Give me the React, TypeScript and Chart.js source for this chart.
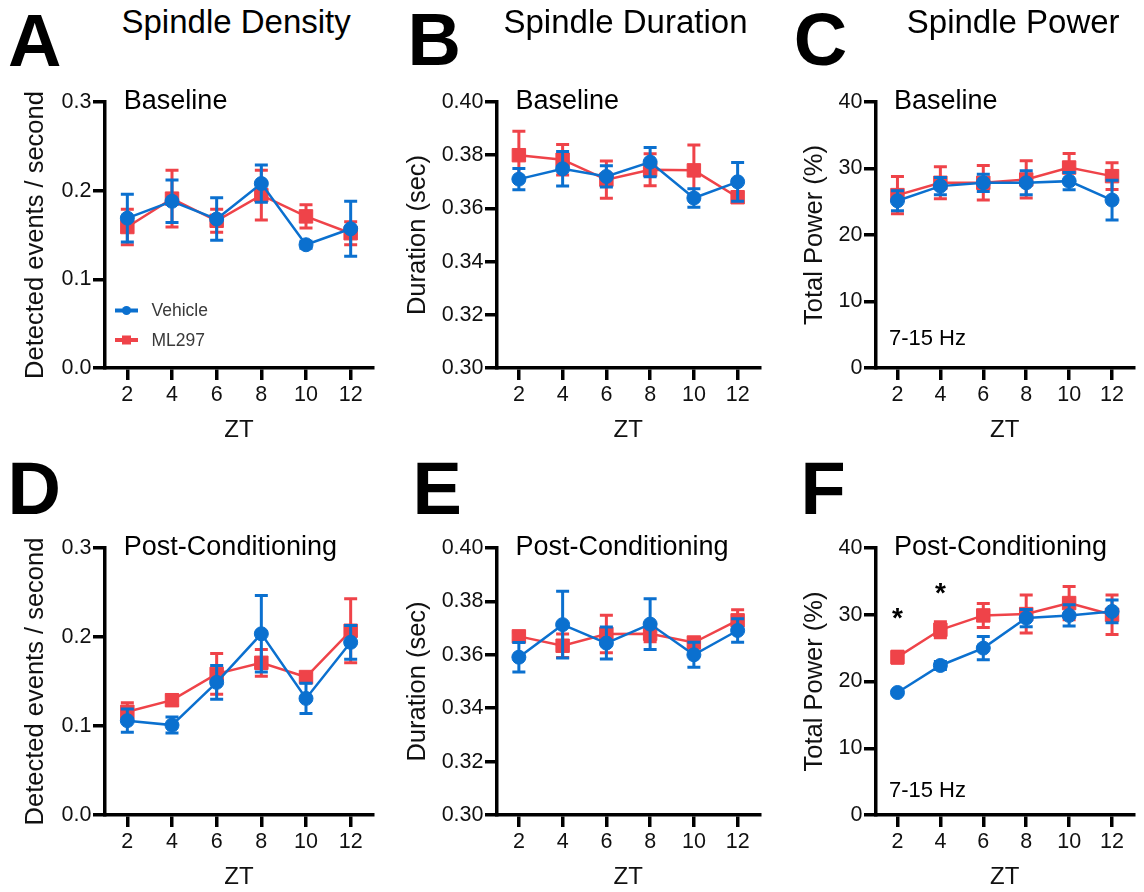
import React, { useEffect, useRef } from 'react';
import { Chart, registerables } from 'chart.js';

Chart.register(...registerables);

const FONT = '"Liberation Sans", Arial, Helvetica, sans-serif';
const BLUE = '#0b70cf';
const RED = '#ef4349';

// ---------- data ----------
const ZT = [2, 4, 6, 8, 10, 12];
const X_TICKS = [2, 4, 6, 8, 10, 12];
const DENS_TICKS = [0, 0.1, 0.2, 0.3];
const DUR_TICKS = [0.3, 0.32, 0.34, 0.36, 0.38, 0.4];
const POW_TICKS = [0, 10, 20, 30, 40];
const SERIES_LABELS = ['Vehicle', 'ML297'];

// A: Spindle density, baseline
const VEH_DENS_BASE = [0.169, 0.188, 0.168, 0.208, 0.139, 0.157];
const VEH_DENS_BASE_ERR = [0.027, 0.024, 0.024, 0.021, 0.004, 0.031];
const ML_DENS_BASE = [0.159, 0.191, 0.166, 0.195, 0.171, 0.152];
const ML_DENS_BASE_ERR = [0.02, 0.032, 0.013, 0.028, 0.013, 0.013];

// B: Spindle duration, baseline
const VEH_DUR_BASE = [0.371, 0.3749, 0.372, 0.3774, 0.3639, 0.37];
const VEH_DUR_BASE_ERR = [0.004, 0.0065, 0.004, 0.0055, 0.0035, 0.0073];
const ML_DUR_BASE = [0.38, 0.3783, 0.3708, 0.3745, 0.3743, 0.3642];
const ML_DUR_BASE_ERR = [0.009, 0.0057, 0.007, 0.006, 0.0095, 0.002];

// C: Spindle power, baseline
const VEH_POW_BASE = [25.15, 27.35, 27.85, 27.85, 28.1, 25.25];
const VEH_POW_BASE_ERR = [1.5, 1.3, 1.3, 1.8, 1.3, 3.0];
const ML_POW_BASE = [26.0, 27.85, 27.85, 28.35, 30.15, 28.85];
const ML_POW_BASE_ERR = [2.8, 2.4, 2.6, 2.8, 2.1, 2.0];

// D: Spindle density, post-conditioning
const VEH_DENS_POST = [0.106, 0.101, 0.149, 0.2036, 0.131, 0.194];
const VEH_DENS_POST_ERR = [0.013, 0.009, 0.019, 0.043, 0.017, 0.019];
const ML_DENS_POST = [0.116, 0.129, 0.1586, 0.171, 0.155, 0.207];
const ML_DENS_POST_ERR = [0.01, 0.006, 0.023, 0.015, 0.005, 0.036];

// E: Spindle duration, post-conditioning
const VEH_DUR_POST = [0.3591, 0.3713, 0.3644, 0.3715, 0.36, 0.3691];
const VEH_DUR_POST_ERR = [0.0055, 0.0125, 0.006, 0.0095, 0.0047, 0.0044];
const ML_DUR_POST = [0.3669, 0.3634, 0.3678, 0.3679, 0.3646, 0.3729];
const ML_DUR_POST_ERR = [0.0015, 0.0044, 0.007, 0.003, 0.0015, 0.004];

// F: Spindle power, post-conditioning
const VEH_POW_POST = [18.35, 22.4, 25.0, 29.5, 29.9, 30.5];
const VEH_POW_POST_ERR = [0.3, 0.6, 1.75, 1.3, 1.6, 1.7];
const ML_POW_POST = [23.65, 27.75, 29.9, 30.1, 31.75, 30.0];
const ML_POW_POST_ERR = [0.9, 1.2, 1.8, 2.85, 2.5, 2.95];

// significance markers (ZT, y position)
const STAR_ZT = [2, 4];
const STAR_Y = [30.1, 33.85];

// ---------- plugins ----------
const errorBarPlugin = {
  id: 'errbars',
  beforeDatasetDraw(chart: any, args: any) {
    const ds: any = chart.data.datasets[args.index];
    const errs: number[] = ds.errors || [];
    const xs = chart.scales.x;
    const ys = chart.scales.y;
    const ctx = chart.ctx;
    ctx.save();
    ctx.strokeStyle = ds.borderColor;
    ctx.lineWidth = 3;
    ctx.lineCap = 'butt';
    ds.data.forEach((p: any, i: number) => {
      const e = errs[i] || 0;
      const px = xs.getPixelForValue(p.x);
      const yt = ys.getPixelForValue(p.y + e);
      const yb = ys.getPixelForValue(p.y - e);
      ctx.beginPath();
      ctx.moveTo(px, yt);
      ctx.lineTo(px, yb);
      ctx.moveTo(px - 6.5, yt);
      ctx.lineTo(px + 6.5, yt);
      ctx.moveTo(px - 6.5, yb);
      ctx.lineTo(px + 6.5, yb);
      ctx.stroke();
    });
    ctx.restore();
  },
};

const annotPlugin = {
  id: 'annot',
  afterDraw(chart: any, _args: any, opts: any) {
    const { ctx, chartArea } = chart;
    const xs = chart.scales.x;
    const ys = chart.scales.y;
    ctx.save();
    const items = opts.items || [];
    for (let k = 0; k < items.length; k++) {
      const it = items[k];
      ctx.font = `${it.bold ? 'bold ' : ''}${it.size}px ${FONT}`;
      ctx.fillStyle = it.color || '#000';
      ctx.textAlign = it.align || 'left';
      ctx.textBaseline = 'alphabetic';
      const px = xs.getPixelForValue(it.x) + (it.dx || 0);
      const py = (it.y === null || it.y === undefined ? chartArea.top : ys.getPixelForValue(it.y)) + (it.dy || 0);
      ctx.fillText(it.text, px, py);
    }
    if (opts.legend) {
      const rows = [chartArea.bottom - 57.5, chartArea.bottom - 28];
      chart.data.datasets.forEach((ds: any, i: number) => {
        const y = rows[i];
        const x0 = chartArea.left + 10;
        const x1 = chartArea.left + 33;
        const cx = (x0 + x1) / 2;
        ctx.strokeStyle = ds.borderColor;
        ctx.fillStyle = ds.borderColor;
        ctx.lineWidth = 4;
        ctx.beginPath();
        ctx.moveTo(x0, y);
        ctx.lineTo(x1, y);
        ctx.stroke();
        if (ds.pointStyle === 'rect') {
          ctx.fillRect(cx - 4.5, y - 4.5, 9, 9);
        } else {
          ctx.beginPath();
          ctx.arc(cx, y, 4.5, 0, Math.PI * 2);
          ctx.fill();
        }
        ctx.fillStyle = '#3a3a3a';
        ctx.font = `17.5px ${FONT}`;
        ctx.textAlign = 'left';
        ctx.textBaseline = 'middle';
        ctx.fillText(ds.label, chartArea.left + 46.5, y + 1);
      });
    }
    ctx.restore();
  },
};

// ---------- panel layouts ----------
type PanelCfg = {
  key: string;
  left: number;
  top: number;
  w: number;
  h: number;
  yw: number;
  padRight: number;
  yTitlePad: number;
  yTitle: string;
  yTicks: number[];
  yDec: number;
  yMin: number;
  yMax: number;
  veh: number[];
  vehErr: number[];
  ml: number[];
  mlErr: number[];
  items: any[];
  legend?: boolean;
};

const SUB = (text: string) => ({ text, x: 2, dx: -3.5, y: null, dy: 7, size: 27 });

const PANELS: PanelCfg[] = [
  {
    key: 'A', left: 0, top: 80, w: 385, h: 365, yw: 105, padRight: 12, yTitlePad: 20.9,
    yTitle: 'Detected events / second', yTicks: DENS_TICKS, yDec: 1, yMin: 0, yMax: 0.3,
    veh: VEH_DENS_BASE, vehErr: VEH_DENS_BASE_ERR, ml: ML_DENS_BASE, mlErr: ML_DENS_BASE_ERR,
    items: [SUB('Baseline')], legend: true,
  },
  {
    key: 'B', left: 385, top: 80, w: 385, h: 365, yw: 112, padRight: 6, yTitlePad: 17.6,
    yTitle: 'Duration (sec)', yTicks: DUR_TICKS, yDec: 2, yMin: 0.3, yMax: 0.4,
    veh: VEH_DUR_BASE, vehErr: VEH_DUR_BASE_ERR, ml: ML_DUR_BASE, mlErr: ML_DUR_BASE_ERR,
    items: [SUB('Baseline')],
  },
  {
    key: 'C', left: 770, top: 80, w: 374, h: 365, yw: 106, padRight: 4, yTitlePad: 29.2,
    yTitle: 'Total Power (%)', yTicks: POW_TICKS, yDec: 0, yMin: 0, yMax: 40,
    veh: VEH_POW_BASE, vehErr: VEH_POW_BASE_ERR, ml: ML_POW_BASE, mlErr: ML_POW_BASE_ERR,
    items: [SUB('Baseline'), { text: '7-15 Hz', x: 2, dx: -8.5, y: 3.5, size: 22 }],
  },
  {
    key: 'D', left: 0, top: 526, w: 385, h: 366, yw: 105, padRight: 12, yTitlePad: 20.9,
    yTitle: 'Detected events / second', yTicks: DENS_TICKS, yDec: 1, yMin: 0, yMax: 0.3,
    veh: VEH_DENS_POST, vehErr: VEH_DENS_POST_ERR, ml: ML_DENS_POST, mlErr: ML_DENS_POST_ERR,
    items: [SUB('Post-Conditioning')],
  },
  {
    key: 'E', left: 385, top: 526, w: 385, h: 366, yw: 112, padRight: 6, yTitlePad: 17.6,
    yTitle: 'Duration (sec)', yTicks: DUR_TICKS, yDec: 2, yMin: 0.3, yMax: 0.4,
    veh: VEH_DUR_POST, vehErr: VEH_DUR_POST_ERR, ml: ML_DUR_POST, mlErr: ML_DUR_POST_ERR,
    items: [SUB('Post-Conditioning')],
  },
  {
    key: 'F', left: 770, top: 526, w: 374, h: 366, yw: 106, padRight: 4, yTitlePad: 29.2,
    yTitle: 'Total Power (%)', yTicks: POW_TICKS, yDec: 0, yMin: 0, yMax: 40,
    veh: VEH_POW_POST, vehErr: VEH_POW_POST_ERR, ml: ML_POW_POST, mlErr: ML_POW_POST_ERR,
    items: [
      SUB('Post-Conditioning'),
      { text: '7-15 Hz', x: 2, dx: -8.5, y: 2.65, size: 22 },
      ...STAR_ZT.map((z, i) => ({ text: '*', x: z, y: STAR_Y[i], dy: 13, size: 28, bold: true, align: 'center' })),
    ],
  },
];

const LETTERS = [
  { t: 'A', left: 8, top: 4.4 },
  { t: 'B', left: 407.6, top: 3.4 },
  { t: 'C', left: 793.7, top: 3 },
  { t: 'D', left: 7.6, top: 452.4 },
  { t: 'E', left: 412.6, top: 452.4 },
  { t: 'F', left: 800.6, top: 452.4 },
];

const TITLES = [
  { t: 'Spindle Density', left: 121.5, top: 5.4 },
  { t: 'Spindle Duration', left: 503.5, top: 5.4 },
  { t: 'Spindle Power', left: 906.8, top: 5.4 },
];

function Panel({ cfg }: { cfg: PanelCfg }) {
  const ref = useRef<HTMLCanvasElement | null>(null);
  useEffect(() => {
    const canvas = ref.current;
    if (!canvas) return;
    const mk = (label: string, vals: number[], errs: number[], color: string, style: string, r: number) => ({
      label,
      data: ZT.map((x, i) => ({ x, y: vals[i] })),
      errors: errs,
      borderColor: color,
      backgroundColor: color,
      pointBackgroundColor: color,
      pointBorderColor: color,
      pointStyle: style,
      pointRadius: r,
      pointBorderWidth: 1,
      borderWidth: 2.5,
      tension: 0,
      fill: false,
      clip: false,
    });
    const chart = new Chart(canvas, {
      type: 'line',
      data: {
        datasets: [
          mk(SERIES_LABELS[0], cfg.veh, cfg.vehErr, BLUE, 'circle', 7),
          mk(SERIES_LABELS[1], cfg.ml, cfg.mlErr, RED, 'rect', 9.5),
        ] as any,
      },
      options: {
        responsive: false,
        animation: false,
        devicePixelRatio: 1,
        events: [],
        layout: { padding: { top: 22, right: cfg.padRight, left: 0, bottom: 0 } },
        plugins: {
          legend: { display: false },
          tooltip: { enabled: false },
          title: { display: false },
          annot: { items: cfg.items, legend: !!cfg.legend },
        } as any,
        scales: {
          x: {
            type: 'linear',
            min: 1,
            max: 13,
            afterBuildTicks: (a: any) => { a.ticks = X_TICKS.map((v) => ({ value: v })); },
            afterFit: (a: any) => { a.height = 77; },
            grid: { display: true, drawOnChartArea: false, drawTicks: true, tickLength: 12, lineWidth: 3.5, color: '#000' },
            border: { display: true, width: 3.5, color: '#000' },
            ticks: { font: { size: 21.5, family: FONT }, color: '#111', padding: 2, maxRotation: 0, autoSkip: false, callback: (v: any) => String(v) },
            title: { display: true, text: 'ZT', font: { size: 24, family: FONT }, color: '#111', padding: { top: 0, bottom: 0.1 } },
          },
          y: {
            type: 'linear',
            min: cfg.yMin,
            max: cfg.yMax,
            afterBuildTicks: (a: any) => { a.ticks = cfg.yTicks.map((v) => ({ value: v })); },
            afterFit: (a: any) => { a.width = cfg.yw; },
            grid: { display: true, drawOnChartArea: false, drawTicks: true, tickLength: 12, lineWidth: 3.5, color: '#000' },
            border: { display: true, width: 3.5, color: '#000' },
            ticks: { font: { size: 21.5, family: FONT }, color: '#111', padding: 1.5, autoSkip: false, callback: (v: any) => Number(v).toFixed(cfg.yDec) },
            title: { display: true, text: cfg.yTitle, font: { size: 25.5, family: FONT }, color: '#111', padding: { top: cfg.yTitlePad, bottom: 0 } },
          },
        },
      } as any,
      plugins: [errorBarPlugin, annotPlugin],
    });
    return () => chart.destroy();
  }, [cfg]);
  return (
    <canvas
      ref={ref}
      width={cfg.w}
      height={cfg.h}
      style={{ position: 'absolute', left: cfg.left, top: cfg.top, width: cfg.w, height: cfg.h }}
    />
  );
}

export default function App() {
  return (
    <div
      style={{
        position: 'absolute', left: 0, top: 0, width: 1144, height: 892,
        overflow: 'hidden', background: '#fff', fontFamily: FONT,
      }}
    >
      {PANELS.map((p) => <Panel key={p.key} cfg={p} />)}
      {LETTERS.map((l) => (
        <div key={l.t} style={{ position: 'absolute', left: l.left, top: l.top, fontSize: 74, lineHeight: '74px', fontWeight: 'bold', color: '#000', whiteSpace: 'nowrap' }}>{l.t}</div>
      ))}
      {TITLES.map((t) => (
        <div key={t.t} style={{ position: 'absolute', left: t.left, top: t.top, fontSize: 33, lineHeight: '33px', color: '#000', whiteSpace: 'nowrap' }}>{t.t}</div>
      ))}
    </div>
  );
}
